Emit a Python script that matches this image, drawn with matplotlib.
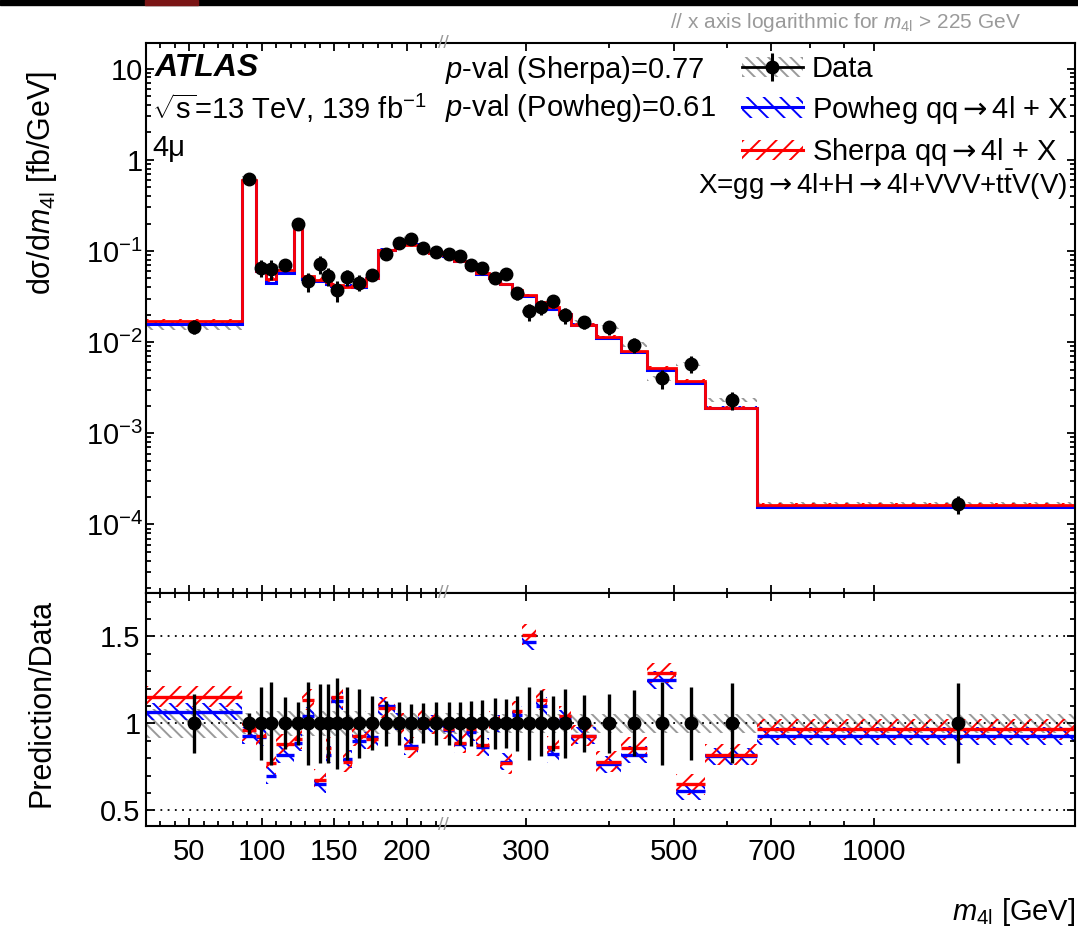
import numpy as np
import matplotlib

matplotlib.use("Agg")
import matplotlib.pyplot as plt
from matplotlib.patches import Patch, Rectangle
from matplotlib.lines import Line2D
from matplotlib.legend_handler import HandlerTuple
from matplotlib.ticker import FixedLocator, FuncFormatter, NullFormatter

plt.rcParams["font.family"] = ["Liberation Sans", "DejaVu Sans"]
plt.rcParams["mathtext.fontset"] = "custom"
plt.rcParams["mathtext.rm"] = "Liberation Sans"
plt.rcParams["mathtext.it"] = "Liberation Sans:italic"
plt.rcParams["mathtext.bf"] = "Liberation Sans:bold"
plt.rcParams["mathtext.sf"] = "DejaVu Sans"
plt.rcParams["hatch.linewidth"] = 1.4

# ----- data -----
edges = [20, 86, 96, 103, 110, 122, 128, 136, 144, 148, 156, 162, 172, 180, 192,
         198, 208, 215, 225, 234, 244, 252, 264, 274, 286, 296, 310, 322, 336,
         350, 382, 416, 456, 504, 556, 667, 2000]

data_xs = [0.0148, 0.623, 0.0655, 0.0638, 0.0706, 0.196, 0.0467, 0.0713, 0.053,
           0.0369, 0.0516, 0.0449, 0.055, 0.0933, 0.122, 0.136, 0.108, 0.0966,
           0.092, 0.0873, 0.0695, 0.0649, 0.0504, 0.0562, 0.0348, 0.0217,
           0.0242, 0.0279, 0.0196, 0.0166, 0.0146, 0.0094, 0.0040, 0.00578,
           0.00232, 1.68e-4]

# relative statistical error of data (ratio panel error bars)
data_stat = [0.17, 0.06, 0.21, 0.24, 0.15, 0.125, 0.24, 0.225, 0.225, 0.26, 0.21,
             0.20, 0.155, 0.13, 0.125, 0.11, 0.115, 0.125, 0.125, 0.125, 0.13,
             0.135, 0.145, 0.14, 0.16, 0.21, 0.19, 0.16, 0.20, 0.165, 0.17, 0.19,
             0.24, 0.21, 0.23, 0.23]

# relative systematic band of data (grey hatch)
data_syst = [0.085, 0.06, 0.07, 0.07, 0.07, 0.07, 0.07, 0.07, 0.07, 0.07, 0.07,
             0.07, 0.06, 0.06, 0.06, 0.06, 0.06, 0.06, 0.06, 0.06, 0.055, 0.055,
             0.055, 0.055, 0.055, 0.055, 0.055, 0.055, 0.055, 0.055, 0.055,
             0.055, 0.055, 0.055, 0.055, 0.055]

sherpa_ratio = [1.153, 0.96, 0.93, 0.77, 0.88, 0.91, 1.136, 0.677, 0.86, 1.15,
                0.78, 0.93, 0.91, 1.09, 1.0, 0.86, 1.02, 1.0, 0.97, 0.89, 0.966,
                0.874, 1.01, 0.77, 1.07, 1.51, 1.136, 0.866, 1.04, 0.93, 0.78,
                0.86, 1.29, 0.65, 0.82, 0.966]

powheg_ratio = [1.068, 0.93, 0.92, 0.70, 0.82, 0.89, 1.043, 0.652, 0.82, 1.13,
                0.795, 0.90, 0.92, 1.10, 1.01, 0.87, 1.01, 1.0, 0.96, 0.88, 0.95,
                0.865, 1.0, 0.78, 1.05, 1.47, 1.10, 0.825, 1.03, 0.93, 0.765,
                0.82, 1.25, 0.61, 0.81, 0.928]

sherpa_unc = 0.06
powheg_unc = 0.05

x_major = [50, 100, 150, 200, 300, 500, 700, 1000]
x_minor = [30, 40, 60, 70, 80, 90, 110, 120, 130, 140, 160, 170, 180, 190, 210,
           220, 400, 600, 800, 900]
y_major = [1e-4, 1e-3, 1e-2, 1e-1, 1, 10]
r_major = [0.5, 1.0, 1.5]

# ----- x axis: linear below 225 GeV, logarithmic above -----
BREAK = 225.0
LOG_UNITS = 460.0


def fwd(x):
    x = np.asarray(x, dtype=float)
    xl = np.maximum(x, 1e-9)
    return np.where(x <= BREAK, x, BREAK + LOG_UNITS * np.log10(xl / BREAK))


def inv(y):
    y = np.asarray(y, dtype=float)
    yc = np.minimum(y, 5000.0)
    return np.where(y <= BREAK, y, BREAK * 10 ** ((yc - BREAK) / LOG_UNITS))


W, H = 1078, 931
YLO, YHI = 1.77e-5, 19.1
edges = np.array(edges, dtype=float)
data_xs = np.array(data_xs)
data_stat = np.array(data_stat)
data_syst = np.array(data_syst)
sherpa_ratio = np.array(sherpa_ratio)
powheg_ratio = np.array(powheg_ratio)
centers = 0.5 * (edges[:-1] + edges[1:])
sherpa_xs = data_xs * sherpa_ratio
powheg_xs = data_xs * powheg_ratio

GREY = "#9a9a9a"
BLUE = "#0000ff"
RED = "#ff0000"
ARROW = r"$\mathsf{\rightarrow}$"
FS = 21

fig = plt.figure(figsize=(W / 100, H / 100), dpi=100)
ax = fig.add_axes([146 / W, 1 - 593 / H, 929 / W, 550 / H])
rax = fig.add_axes([146 / W, 1 - 826 / H, 929 / W, 233 / H])

for a in (ax, rax):
    a.set_xscale("function", functions=(fwd, inv))
    a.set_xlim(20, 2000)
    a.xaxis.set_major_locator(FixedLocator(x_major))
    a.xaxis.set_minor_locator(FixedLocator(x_minor))
    a.xaxis.set_minor_formatter(NullFormatter())
    a.tick_params(which="both", direction="in", top=True, right=True,
                  labelsize=FS, width=1.3)
    a.tick_params(which="major", length=6)
    a.tick_params(which="minor", length=3.5)
    for s in a.spines.values():
        s.set_linewidth(1.5)

# ----- top panel -----
ax.set_yscale("log")
ax.set_ylim(YLO, YHI)
y_minor = [m * d for d in [1e-5] + y_major for m in range(2, 10) if YLO < m * d < YHI]
ax.yaxis.set_major_locator(FixedLocator(y_major))
ax.yaxis.set_minor_locator(FixedLocator(y_minor))
ax.yaxis.set_minor_formatter(NullFormatter())


def ylab(v, pos):
    e = int(round(np.log10(v)))
    if e == 1:
        return "10"
    if e == 0:
        return "1"
    return r"$10^{%d}$" % e


ax.yaxis.set_major_formatter(FuncFormatter(ylab))
ax.tick_params(axis="y", pad=2)
ax.tick_params(axis="x", labelbottom=False)

ax.stairs(data_xs * (1 + data_syst), edges, baseline=data_xs * (1 - data_syst),
          fill=True, facecolor="none", edgecolor=GREY, hatch="\\\\\\", lw=0)
ax.stairs(powheg_xs * (1 + powheg_unc), edges, baseline=powheg_xs * (1 - powheg_unc),
          fill=True, facecolor="none", edgecolor=BLUE, hatch="\\\\", lw=0)
ax.stairs(sherpa_xs * (1 + sherpa_unc), edges, baseline=sherpa_xs * (1 - sherpa_unc),
          fill=True, facecolor="none", edgecolor=RED, hatch="//", lw=0)
ax.stairs(powheg_xs, edges, baseline=None, color=BLUE, lw=2.2)
ax.stairs(sherpa_xs, edges, baseline=None, color=RED, lw=2.0)
ax.errorbar(centers, data_xs, yerr=data_xs * data_stat, fmt="o", color="black",
            ms=9, elinewidth=2.2, capsize=0, zorder=5)

# legend
h_data = (Patch(facecolor="none", edgecolor=GREY, hatch="\\\\\\", lw=0),
          Line2D([], [], color="black", lw=2, marker="o", ms=9),
          Line2D([], [], color="black", lw=0, marker="|", ms=20, mew=2.2))
h_pow = (Patch(facecolor="none", edgecolor=BLUE, hatch="\\\\", lw=0),
         Line2D([], [], color=BLUE, lw=2.2))
h_she = (Patch(facecolor="none", edgecolor=RED, hatch="//", lw=0),
         Line2D([], [], color=RED, lw=2.2))
ax.legend([h_data, h_pow, h_she],
          ["Data", "Powheg qq" + ARROW + "4l + X", "Sherpa qq" + ARROW + "4l + X"],
          handler_map={tuple: HandlerTuple(ndivide=1)},
          loc="upper right", bbox_to_anchor=(0.9925, 0.978), frameon=False,
          fontsize=FS, handlelength=2.1, handletextpad=0.3, labelspacing=0.36,
          borderpad=0, borderaxespad=0)

# ----- ratio panel -----
rax.set_ylim(0.41, 1.75)
rax.yaxis.set_major_locator(FixedLocator(r_major))
rax.yaxis.set_minor_locator(FixedLocator(np.arange(0.5, 1.75, 0.1)))
rax.yaxis.set_major_formatter(FuncFormatter(lambda v, p: "%g" % v))
rax.yaxis.set_minor_formatter(NullFormatter())
rax.xaxis.set_major_formatter(FuncFormatter(lambda v, p: "%d" % v))
rax.tick_params(axis="y", pad=4)
rax.tick_params(axis="x", pad=9)

rax.stairs(1 + data_syst, edges, baseline=1 - data_syst, fill=True,
           facecolor="none", edgecolor=GREY, hatch="\\\\\\", lw=0)
rax.stairs(powheg_ratio + powheg_unc, edges, baseline=powheg_ratio - powheg_unc,
           fill=True, facecolor="none", edgecolor=BLUE, hatch="\\\\", lw=0)
rax.stairs(sherpa_ratio + sherpa_unc, edges, baseline=sherpa_ratio - sherpa_unc,
           fill=True, facecolor="none", edgecolor=RED, hatch="//", lw=0)
for yv in r_major:
    rax.axhline(yv, color="black", ls=(0, (1, 3)), lw=1.3, zorder=1)
rax.hlines(powheg_ratio, edges[:-1], edges[1:], color=BLUE, lw=2.4)
rax.hlines(sherpa_ratio, edges[:-1], edges[1:], color=RED, lw=2.4)
rax.errorbar(centers, np.ones_like(centers), yerr=data_stat, fmt="o", color="black",
             ms=9, elinewidth=2.4, capsize=0, zorder=5)

# axis break marks
for a, yy in ((ax, 1.0), (rax, 1.0), (rax, 0.0)):
    a.text(BREAK, yy, "//", transform=a.get_xaxis_transform(), color=GREY,
           fontsize=14, ha="center", va="center", clip_on=False, zorder=10)


def ftext(x, y, s, **kw):
    fig.text(x / W, 1 - y / H, s, **kw)


ftext(155, 68, "ATLAS", fontsize=23, fontweight="bold", fontstyle="italic", va="center")
ftext(152, 108, r"$\sqrt{\mathrm{s}}$=13 TeV, 139 fb$^{-1}$", fontsize=FS, va="center")
ftext(152, 148, "4\u03bc", fontsize=FS, va="center")
ftext(445, 70, "$p$-val (Sherpa)=0.77", fontsize=FS, va="center")
ftext(445, 108, "$p$-val (Powheg)=0.61", fontsize=FS, va="center")
ftext(1067, 185, "X=gg" + ARROW + "4l+H" + ARROW + "4l+VVV+$\\mathrm{t\\bar{t}}$V(V)",
      fontsize=FS - 1, ha="right", va="center")
ftext(670, 22, "// x axis logarithmic for $m_{4\\mathrm{l}}$ > 225 GeV", fontsize=15,
      color=GREY, va="center")
ftext(42, 183, "d\u03c3/d$m_{4\\mathrm{l}}$ [fb/GeV]", fontsize=22, rotation=90,
      ha="center", va="center")
ftext(42, 703, "Prediction/Data", fontsize=22, rotation=90, ha="center", va="center")
ftext(1075, 912, "$m_{4\\mathrm{l}}$ [GeV]", fontsize=FS, ha="right", va="center")

# screenshot strip at the very top
fig.add_artist(Rectangle((0, 1 - 5 / H), 1, 5 / H, transform=fig.transFigure,
                         color="black", zorder=20))
fig.add_artist(Rectangle((145 / W, 1 - 5 / H), 53 / W, 5 / H, transform=fig.transFigure,
                         color="#7a1515", zorder=21))

fig.savefig("out.png", dpi=100)
